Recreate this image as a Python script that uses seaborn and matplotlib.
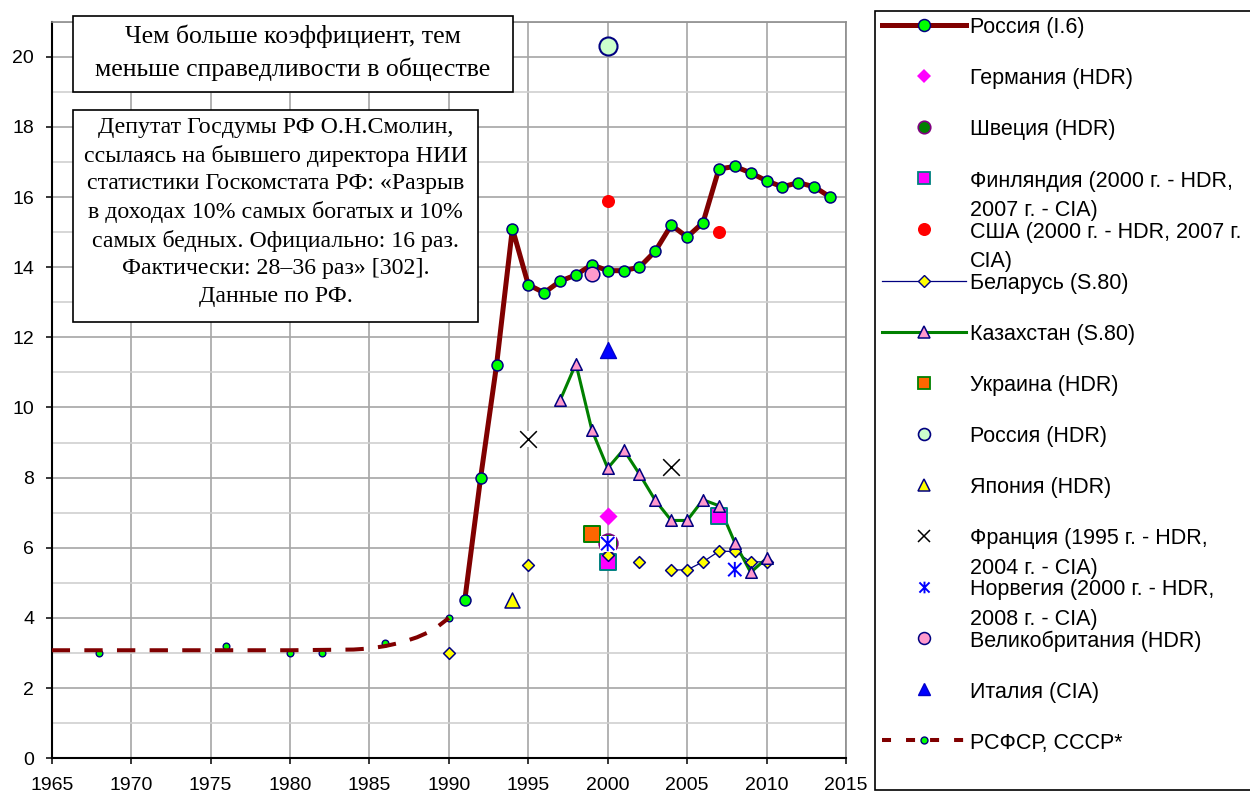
import matplotlib
matplotlib.use("Agg")
import matplotlib.pyplot as plt
import seaborn as sns
from matplotlib.lines import Line2D
from matplotlib.patches import Rectangle
from matplotlib.path import Path
from matplotlib.ticker import MultipleLocator

# ---------------- data ----------------
russia_years = list(range(1991, 2015))
russia_vals = [4.5, 8.0, 11.2, 15.1, 13.5, 13.27, 13.6, 13.78, 14.07, 13.9, 13.9, 14.0,
               14.46, 15.2, 14.86, 15.27, 16.8, 16.87, 16.69, 16.46, 16.29, 16.41, 16.29, 16.0]

rsfsr_years = [1968, 1976, 1980, 1982, 1986, 1990]
rsfsr_vals = [3.0, 3.2, 3.0, 3.0, 3.3, 4.0]
rsfsr_trend_years = [1965, 1980, 1984, 1985, 1986, 1987, 1988, 1989, 1990]
rsfsr_trend_vals = [3.08, 3.08, 3.1, 3.13, 3.2, 3.3, 3.45, 3.65, 4.0]

belarus_years = [1990, 1995, 2000, 2002, 2004, 2005, 2006, 2007, 2008, 2009, 2010]
belarus_vals = [3.0, 5.5, 5.8, 5.6, 5.37, 5.37, 5.6, 5.9, 5.9, 5.6, 5.6]

kaz_years = list(range(1997, 2011))
kaz_vals = [10.2, 11.25, 9.36, 8.27, 8.8, 8.1, 7.35, 6.78, 6.78, 7.37, 7.2, 6.15, 5.3, 5.7]

germany_years, germany_vals = [2000], [6.9]
sweden_years, sweden_vals = [2000], [6.15]
finland_years, finland_vals = [2000, 2007], [5.6, 6.9]
usa_years, usa_vals = [2000, 2007], [15.9, 15.0]
ukraine_years, ukraine_vals = [1999], [6.4]
russia_hdr_years, russia_hdr_vals = [2000], [20.3]
japan_years, japan_vals = [1994], [4.5]
france_years, france_vals = [1995, 2004], [9.1, 8.3]
norway_years, norway_vals = [2000, 2008], [6.12, 5.38]
uk_years, uk_vals = [1999], [13.8]
italy_years, italy_vals = [2000], [11.64]

x_ticks = list(range(1965, 2016, 5))
y_ticks = list(range(0, 21, 2))

legend_labels = [
    "Россия (I.6)",
    "Германия (HDR)",
    "Швеция (HDR)",
    "Финляндия (2000 г. - HDR,\n2007 г. - CIA)",
    "США (2000 г. - HDR, 2007 г.\nCIA)",
    "Беларусь (S.80)",
    "Казахстан (S.80)",
    "Украина (HDR)",
    "Россия (HDR)",
    "Япония (HDR)",
    "Франция (1995 г. - HDR,\n2004 г. - CIA)",
    "Норвегия (2000 г. - HDR,\n2008 г. - CIA)",
    "Великобритания (HDR)",
    "Италия (CIA)",
    "РСФСР, СССР*",
]

note_title = "Чем больше коэффициент, тем\nменьше справедливости в обществе"
note_text = ("Депутат Госдумы РФ О.Н.Смолин,\n"
             "ссылаясь на бывшего директора НИИ\n"
             "статистики Госкомстата РФ: «Разрыв\n"
             "в доходах 10% самых богатых и 10%\n"
             "самых бедных. Официально: 16 раз.\n"
             "Фактически: 28–36 раз» [302].\n"
             "Данные по РФ.")

# ---------------- style ----------------
plt.rcParams['font.family'] = ['Liberation Sans', 'DejaVu Sans']
plt.rcParams['lines.scale_dashes'] = False

W, H = 1250, 792
fig = plt.figure(figsize=(W / 100, H / 100), dpi=100)
ax = fig.add_axes([51.7 / W, 1 - 758.3 / H, (846 - 51.7) / W, (758.3 - 21.6) / H])

NAVY = "#000080"
MAROON = "#800000"

star_path = Path([(-1, -1), (1, 1), (-1, 1), (1, -1), (0, -1.15), (0, 1.15)],
                 [Path.MOVETO, Path.LINETO] * 3)


def line(xs, ys, color, lw, z, ls='-'):
    sns.lineplot(x=xs, y=ys, ax=ax, color=color, linewidth=lw, linestyle=ls,
                 estimator=None, sort=False, zorder=z, legend=False)


def pts(xs, ys, marker, ms, face, edge, lw, z):
    sns.scatterplot(x=xs, y=ys, ax=ax, marker=marker, s=ms ** 2, facecolor=face,
                    edgecolor=edge, linewidth=lw, zorder=z, legend=False)


# lines (drawn first, like Excel)
line(russia_years, russia_vals, MAROON, 3.6, 3)
# Belarus: connect consecutive years only
runs, cur = [], [0]
for i in range(1, len(belarus_years)):
    if belarus_years[i] - belarus_years[i - 1] == 1:
        cur.append(i)
    else:
        runs.append(cur)
        cur = [i]
runs.append(cur)
for r in runs:
    if len(r) > 1:
        line([belarus_years[i] for i in r], [belarus_vals[i] for i in r], NAVY, 0.9, 3)
line(kaz_years, kaz_vals, "#008000", 2.2, 3)

# markers, in series order
pts(russia_years, russia_vals, 'o', 7.9, "#00FF00", NAVY, 1.1, 10)
pts(germany_years, germany_vals, 'D', 9.2, "#FF00FF", "#FF00FF", 0.0, 11)
pts(sweden_years, sweden_vals, 'o', 13.5, "#008000", "#800080", 1.2, 12)
pts(finland_years, finland_vals, 's', 11.0, "#FF00FF", "#008080", 1.4, 13)
pts(usa_years, usa_vals, 'o', 9.4, "#FF0000", "#FF0000", 0.0, 14)
pts(belarus_years, belarus_vals, 'D', 6.0, "#FFFF00", NAVY, 1.1, 15)
pts(kaz_years, kaz_vals, '^', 8.3, "#FF99CC", NAVY, 1.1, 16)
pts(ukraine_years, ukraine_vals, 's', 11.0, "#FF6600", "#008000", 1.4, 17)
pts(russia_hdr_years, russia_hdr_vals, 'o', 13.0, "#CCFFCC", NAVY, 1.5, 18)
pts(japan_years, japan_vals, '^', 10.8, "#FFFF00", NAVY, 1.1, 19)
pts(france_years, france_vals, 's', 12.0, "white", "white", 0.0, 20)
pts(france_years, france_vals, 'x', 12.0, "black", "black", 1.1, 20.5)
pts(norway_years, norway_vals, 's', 11.0, "white", "white", 0.0, 21)
pts(norway_years, norway_vals, star_path, 11.0, "none", "#0000FF", 1.4, 21.5)
pts(uk_years, uk_vals, 'o', 10.5, "#FF99CC", NAVY, 1.1, 22)
pts(italy_years, italy_vals, '^', 11.5, "#0000FF", "#0000CC", 1.0, 23)
pts(rsfsr_years, rsfsr_vals, 'o', 4.8, "#00FF00", NAVY, 1.0, 4)
line(rsfsr_trend_years, rsfsr_trend_vals, MAROON, 2.9, 25, ls=(0, (13.2, 10.3)))

# axes
ax.set_xlim(1965, 2015)
ax.set_ylim(0, 21)
ax.set_xticks(x_ticks)
ax.set_yticks(y_ticks)
ax.yaxis.set_minor_locator(MultipleLocator(1))
ax.set_axisbelow(True)
ax.grid(which='major', axis='both', color='#a6a6a6', linewidth=1.2)
ax.grid(which='minor', axis='y', color='#cfcfcf', linewidth=1.2)
ax.tick_params(which='minor', length=0)
ax.tick_params(which='major', direction='out', length=4.5, width=1.1,
               labelsize=14, colors='black')
ax.tick_params(axis='x', pad=8.7)
ax.tick_params(axis='y', pad=8.2)
ax.set_xlabel("")
ax.set_ylabel("")
for s in ('left', 'bottom'):
    ax.spines[s].set_color('black')
    ax.spines[s].set_linewidth(1.5)
for s in ('top', 'right'):
    ax.spines[s].set_color('#8c8c8c')
    ax.spines[s].set_linewidth(1.2)


def fx(px):
    return px / W


def fy(py):
    return 1 - py / H


# note boxes
fig.add_artist(Rectangle((fx(73), fy(92)), (513 - 73) / W, (92 - 16) / H,
                         transform=fig.transFigure, facecolor='white',
                         edgecolor='black', linewidth=1.2, zorder=30))
fig.text(fx(293), fy(53), note_title, ha='center', va='center', fontsize=18.5,
         family=['Liberation Serif', 'DejaVu Serif'], linespacing=1.5, zorder=31)
fig.add_artist(Rectangle((fx(73), fy(322)), (478 - 73) / W, (322 - 110) / H,
                         transform=fig.transFigure, facecolor='white',
                         edgecolor='black', linewidth=1.2, zorder=30))
fig.text(fx(275.7), fy(212), note_text, ha='center', va='center', fontsize=17.2,
         family=['Liberation Serif', 'DejaVu Serif'], linespacing=1.4, zorder=31)

# legend (manual, Excel-like layout)
fig.add_artist(Rectangle((fx(875), fy(790)), (1265 - 875) / W, (790 - 10.7) / H,
                         transform=fig.transFigure, facecolor='white',
                         edgecolor='black', linewidth=1.2, zorder=30))
handles = [
    dict(line=(MAROON, 3.6, '-'), marker='o', ms=8.6, mfc="#00FF00", mec=NAVY, mew=1.1),
    dict(marker='D', ms=7.0, mfc="#FF00FF", mec="#FF00FF", mew=0.0),
    dict(marker='o', ms=9.0, mfc="#008000", mec="#800080", mew=1.2),
    dict(marker='s', ms=8.4, mfc="#FF00FF", mec="#008080", mew=1.3),
    dict(marker='o', ms=9.4, mfc="#FF0000", mec="#FF0000", mew=0.0),
    dict(line=(NAVY, 0.9, '-'), marker='D', ms=5.8, mfc="#FFFF00", mec=NAVY, mew=1.0),
    dict(line=("#008000", 2.2, '-'), marker='^', ms=8.4, mfc="#FF99CC", mec=NAVY, mew=1.1),
    dict(marker='s', ms=8.4, mfc="#FF6600", mec="#008000", mew=1.3),
    dict(marker='o', ms=8.6, mfc="#CCFFCC", mec=NAVY, mew=1.2),
    dict(marker='^', ms=8.6, mfc="#FFFF00", mec=NAVY, mew=1.1),
    dict(marker='x', ms=8.4, mfc="black", mec="black", mew=1.1),
    dict(marker=star_path, ms=8.4, mfc="none", mec="#0000FF", mew=1.4),
    dict(marker='o', ms=8.6, mfc="#FF99CC", mec=NAVY, mew=1.1),
    dict(marker='^', ms=8.8, mfc="#0000FF", mec="#0000CC", mew=1.0),
    dict(line=(MAROON, 2.9, (0, (6.5, 10.8))), marker='o', ms=5.0, mfc="#00FF00", mec=NAVY, mew=1.0),
]
LEG_FS = 15.5
for i, (lab, h) in enumerate(zip(legend_labels, handles)):
    y = 25 + 51.1 * i
    if 'line' in h:
        c, lw, ls = h['line']
        fig.add_artist(Line2D([fx(882), fx(966)], [fy(y), fy(y)], transform=fig.transFigure,
                              color=c, linewidth=lw, linestyle=ls, zorder=31))
    fig.add_artist(Line2D([fx(924)], [fy(y)], transform=fig.transFigure, linestyle='none',
                          marker=h['marker'], markersize=h['ms'], markerfacecolor=h['mfc'],
                          markeredgecolor=h['mec'], markeredgewidth=h['mew'], zorder=32))
    fig.text(fx(970), fy(y - 0.358 * LEG_FS * 100 / 72), lab, ha='left', va='top',
             fontsize=LEG_FS, linespacing=1.52, zorder=33)

fig.savefig("out.png", dpi=100)
